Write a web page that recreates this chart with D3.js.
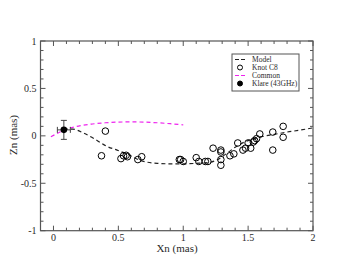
<!DOCTYPE html>
<html>
<head>
<meta charset="utf-8">
<script src="https://cdn.jsdelivr.net/npm/d3@7"></script>
<style>
  body { margin: 0; background: #fff; }
  text { font-family: "Liberation Serif", "DejaVu Serif", serif; font-weight: normal; fill: #2a2a2a; }
</style>
</head>
<body>
<svg id="chart" width="353" height="273"></svg>
<script>
// values
let xTicks = [0, 0.5, 1, 1.5, 2]
let yTicks = [-1, -0.5, 0, 0.5, 1]

let modelX = [0.08, 0.15, 0.23, 0.32, 0.41, 0.49, 0.58, 0.67, 0.8, 0.9, 1.0, 1.1, 1.2, 1.25, 1.3, 1.35, 1.4, 1.45, 1.5, 1.6, 1.7, 1.8, 1.9, 2.0]
let modelZ = [0.07, 0.07, 0.03, -0.035, -0.11, -0.15, -0.2, -0.26, -0.29, -0.295, -0.295, -0.29, -0.28, -0.26, -0.22, -0.17, -0.12, -0.08, -0.05, -0.01, 0.015, 0.04, 0.06, 0.085]

let commonX = [-0.02, 0.05, 0.1, 0.2, 0.3, 0.4, 0.5, 0.6, 0.7, 0.8, 0.9, 1.0]
let commonZ = [-0.01, 0.04, 0.07, 0.105, 0.125, 0.138, 0.145, 0.147, 0.145, 0.138, 0.128, 0.115]

let knotX = [0.40, 0.37, 0.52, 0.54, 0.56, 0.57, 0.65, 0.68, 0.97, 0.98, 1.0, 1.10, 1.12, 1.17, 1.19, 1.23, 1.29, 1.29, 1.29, 1.29, 1.36, 1.39, 1.42, 1.46, 1.48, 1.50, 1.52, 1.54, 1.55, 1.565, 1.59, 1.69, 1.69, 1.77, 1.77]
let knotZ = [0.05, -0.21, -0.24, -0.21, -0.205, -0.22, -0.25, -0.22, -0.25, -0.25, -0.27, -0.23, -0.27, -0.27, -0.27, -0.13, -0.15, -0.17, -0.25, -0.31, -0.21, -0.19, -0.075, -0.15, -0.13, -0.075, -0.13, -0.065, -0.05, -0.03, 0.02, 0.04, -0.15, 0.1, -0.015]

let klareX = [0.08]
let klareZ = [0.063]
let klareErrX = [0.05]
let klareErrZ = [0.1]

let legendLabels = ["Model", "Knot C8", "Common", "Klare (43GHz)"]

let svg = d3.select("#chart")

let plotLeft = 40.5, plotRight = 313, plotTop = 41, plotBottom = 230.7

let x = d3.scaleLinear().domain([-0.1, 2]).range([plotLeft, plotRight])
let y = d3.scaleLinear().domain([-1, 1]).range([plotBottom, plotTop])

let frameColor = "#555"

// minor + major ticks on all four sides, pointing inward
let xMinor = d3.range(0, 21).map(i => i / 10)
let yMinor = d3.range(-10, 11).map(i => i / 10)

function tickLen(v, major) {
  return major.some(m => Math.abs(m - v) < 1e-9) ? 5 : 3
}

let ticks = svg.append("g").attr("stroke", frameColor).attr("stroke-width", 1)

for (let v of xMinor) {
  let l = tickLen(v, xTicks)
  ticks.append("line").attr("x1", x(v)).attr("x2", x(v)).attr("y1", plotBottom).attr("y2", plotBottom - l)
  ticks.append("line").attr("x1", x(v)).attr("x2", x(v)).attr("y1", plotTop).attr("y2", plotTop + l)
}
for (let v of yMinor) {
  let l = tickLen(v, yTicks)
  ticks.append("line").attr("y1", y(v)).attr("y2", y(v)).attr("x1", plotLeft).attr("x2", plotLeft + l)
  ticks.append("line").attr("y1", y(v)).attr("y2", y(v)).attr("x1", plotRight).attr("x2", plotRight - l)
}

svg.append("rect")
    .attr("x", plotLeft).attr("y", plotTop)
    .attr("width", plotRight - plotLeft).attr("height", plotBottom - plotTop)
    .attr("fill", "none")
    .attr("stroke", frameColor)
    .attr("stroke-width", 1.2)

// tick labels
svg.selectAll(".xl")
    .data(xTicks)
    .enter().append("text")
    .attr("x", d => x(d))
    .attr("y", plotBottom + 10)
    .attr("text-anchor", "middle")
    .attr("font-size", "10px")
    .text(d => d)

svg.selectAll(".yl")
    .data(yTicks)
    .enter().append("text")
    .attr("x", plotLeft - 4)
    .attr("y", d => y(d) + 3.5)
    .attr("text-anchor", "end")
    .attr("font-size", "10px")
    .text(d => d)

// axis titles
svg.append("text")
    .attr("x", 177)
    .attr("y", 252)
    .attr("text-anchor", "middle")
    .attr("font-size", "11px")
    .text("Xn (mas)")

svg.append("text")
    .attr("transform", "translate(17,135) rotate(-90)")
    .attr("text-anchor", "middle")
    .attr("font-size", "11px")
    .text("Zn (mas)")

let line = d3.line()
    .x(d => x(d[0]))
    .y(d => y(d[1]))
    .curve(d3.curveMonotoneX)

svg.append("path")
    .attr("d", line(d3.zip(commonX, commonZ)))
    .attr("fill", "none")
    .attr("stroke", "#ee22ee")
    .attr("stroke-width", 1.2)
    .attr("stroke-dasharray", "4,3")

svg.append("path")
    .attr("d", line(d3.zip(modelX, modelZ)))
    .attr("fill", "none")
    .attr("stroke", "#222")
    .attr("stroke-width", 1.2)
    .attr("stroke-dasharray", "4,3")

svg.selectAll(".knot")
    .data(d3.zip(knotX, knotZ))
    .enter().append("circle")
    .attr("cx", d => x(d[0]))
    .attr("cy", d => y(d[1]))
    .attr("r", 3.3)
    .attr("fill", "none")
    .attr("stroke", "#000")
    .attr("stroke-width", 1)

// Klare point with error bars
let kx = x(klareX[0]), ky = y(klareZ[0])
let eb = svg.append("g").attr("stroke", "#444").attr("stroke-width", 1)
eb.append("line").attr("x1", kx).attr("x2", kx).attr("y1", y(klareZ[0] - klareErrZ[0])).attr("y2", y(klareZ[0] + klareErrZ[0]))
eb.append("line").attr("x1", kx - 3).attr("x2", kx + 3).attr("y1", y(klareZ[0] - klareErrZ[0])).attr("y2", y(klareZ[0] - klareErrZ[0]))
eb.append("line").attr("x1", kx - 3).attr("x2", kx + 3).attr("y1", y(klareZ[0] + klareErrZ[0])).attr("y2", y(klareZ[0] + klareErrZ[0]))
eb.append("line").attr("x1", x(klareX[0] - klareErrX[0])).attr("x2", x(klareX[0] + klareErrX[0])).attr("y1", ky).attr("y2", ky)
eb.append("line").attr("x1", x(klareX[0] - klareErrX[0])).attr("x2", x(klareX[0] - klareErrX[0])).attr("y1", ky - 3).attr("y2", ky + 3)
eb.append("line").attr("x1", x(klareX[0] + klareErrX[0])).attr("x2", x(klareX[0] + klareErrX[0])).attr("y1", ky - 3).attr("y2", ky + 3)

svg.append("circle")
    .attr("cx", kx).attr("cy", ky)
    .attr("r", 3.3)
    .attr("fill", "#000")

// legend
let lg = svg.append("g").attr("transform", "translate(232,54)")
lg.append("rect")
    .attr("width", 67).attr("height", 37)
    .attr("fill", "#fff")
    .attr("stroke", frameColor)
    .attr("stroke-width", 1)

legendLabels.forEach((lab, i) => {
  let yy = 5.5 + i * 8
  if (i == 0 || i == 2) {
    lg.append("line")
        .attr("x1", 3).attr("x2", 13)
        .attr("y1", yy).attr("y2", yy)
        .attr("stroke", i == 0 ? "#222" : "#ee22ee")
        .attr("stroke-width", 1.2)
        .attr("stroke-dasharray", "4,2")
  } else {
    lg.append("circle")
        .attr("cx", 8).attr("cy", yy)
        .attr("r", 2.5)
        .attr("fill", i == 3 ? "#000" : "none")
        .attr("stroke", "#000")
        .attr("stroke-width", 1)
  }
  lg.append("text")
      .attr("x", 20).attr("y", yy + 2.5)
      .attr("font-size", "7.5px")
      .text(lab)
})
</script>
</body>
</html>
